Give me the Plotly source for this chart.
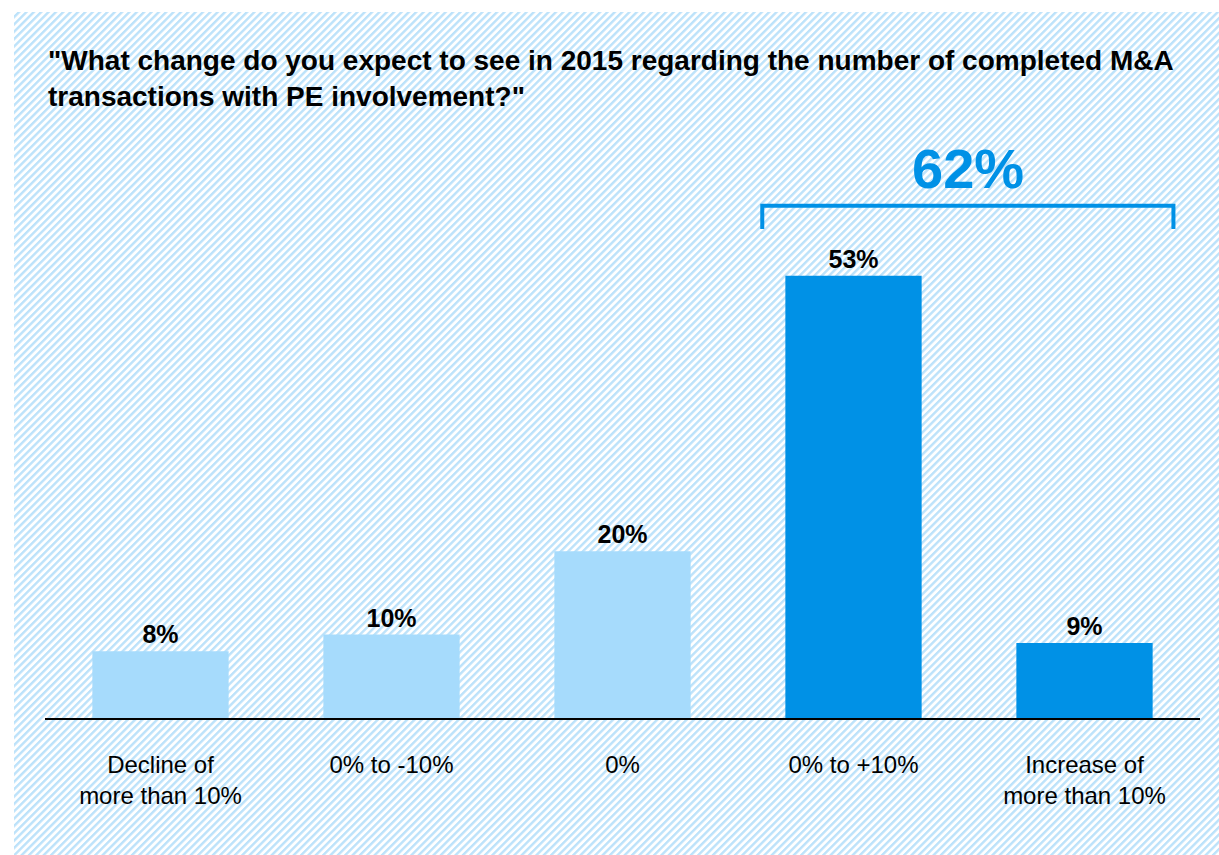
import base64
import plotly.graph_objects as go

# Survey answers
categories = ["Decline of<br>more than 10%", "0% to -10%", "0%", "0% to +10%", "Increase of<br>more than 10%"]
shares = [8, 10, 20, 53, 9]
bar_colors = ["#A6DBFC", "#A6DBFC", "#A6DBFC", "#0091E6", "#0091E6"]
bracket_members = [3, 4]  # indices of the "increase" answers that are summed

title_lines = ['"What change do you expect to see in 2015 regarding the number of completed M&A',
               'transactions with PE involvement?"']

W, H = 1219, 855
M_L, M_R, M_T, M_B = 45, 19, 134, 137
PLOT_W, PLOT_H = W - M_L - M_R, H - M_T - M_B
FONT = "Liberation Sans, Arial, sans-serif"
BLUE = "#0091E6"


def px_to_paper_y(py):
    return 1 + (M_T - py) / PLOT_H


def px_to_paper_x(px):
    return (px - M_L) / PLOT_W


# Diagonal hatch used as the page background
hatch_svg = f"""<svg xmlns='http://www.w3.org/2000/svg' width='{W}' height='{H}'>
<defs><pattern id='h' patternUnits='userSpaceOnUse' width='5.2' height='5.2' patternTransform='rotate(45)'>
<rect x='0' y='0' width='2.4' height='5.2' fill='#BCE2FA'/></pattern></defs>
<rect x='14' y='12' width='{W}' height='{H}' fill='url(#h)'/></svg>"""
hatch_uri = "data:image/svg+xml;base64," + base64.b64encode(hatch_svg.encode()).decode()

fig = go.Figure()
fig.add_trace(go.Bar(
    x=categories, y=shares,
    marker=dict(color=bar_colors, line=dict(width=0)),
    text=[f"<b>{v}%</b>" for v in shares], textposition="outside",
    textfont=dict(family=FONT, size=25, color="#000000"),
    cliponaxis=False, hoverinfo="skip",
))

# Bracket over the increase answers with their combined share
x0, x1 = bracket_members[0] - 0.395, bracket_members[-1] + 0.385
y_top, y_bot = 61.4, 58.6
total = sum(shares[i] for i in bracket_members)
fig.add_shape(type="path", xref="x", yref="y",
              path=f"M {x0},{y_bot} L {x0},{y_top} L {x1},{y_top} L {x1},{y_bot}",
              line=dict(color=BLUE, width=4))
fig.add_annotation(x=(x0 + x1) / 2, y=y_top + 0.5, xref="x", yref="y",
                   text=f"<b>{total}%</b>", showarrow=False, yanchor="bottom",
                   font=dict(family=FONT, size=56, color=BLUE))

for i, line in enumerate(title_lines):
    fig.add_annotation(x=px_to_paper_x(46), y=px_to_paper_y(60 + 36 * i),
                       xref="paper", yref="paper",
                       text=f"<b>{line}</b>", showarrow=False, xanchor="left", yanchor="middle",
                       font=dict(family=FONT, size=28, color="#000000"))

fig.update_layout(
    width=W, height=H,
    margin=dict(l=M_L, r=M_R, t=M_T, b=M_B),
    paper_bgcolor="#FFFFFF", plot_bgcolor="rgba(0,0,0,0)",
    bargap=0.41, showlegend=False,
    images=[dict(source=hatch_uri, xref="paper", yref="paper",
                 x=-M_L / PLOT_W, y=1 + M_T / PLOT_H,
                 sizex=W / PLOT_W, sizey=H / PLOT_H,
                 xanchor="left", yanchor="top", sizing="stretch", layer="below")],
    xaxis=dict(showline=True, linecolor="#000000", linewidth=2, ticks="",
               ticklabelstandoff=24,
               tickfont=dict(family=FONT, size=24, color="#000000"), showgrid=False),
    yaxis=dict(range=[0, 70], visible=False, showgrid=False),
)

fig.write_html("out.html")
